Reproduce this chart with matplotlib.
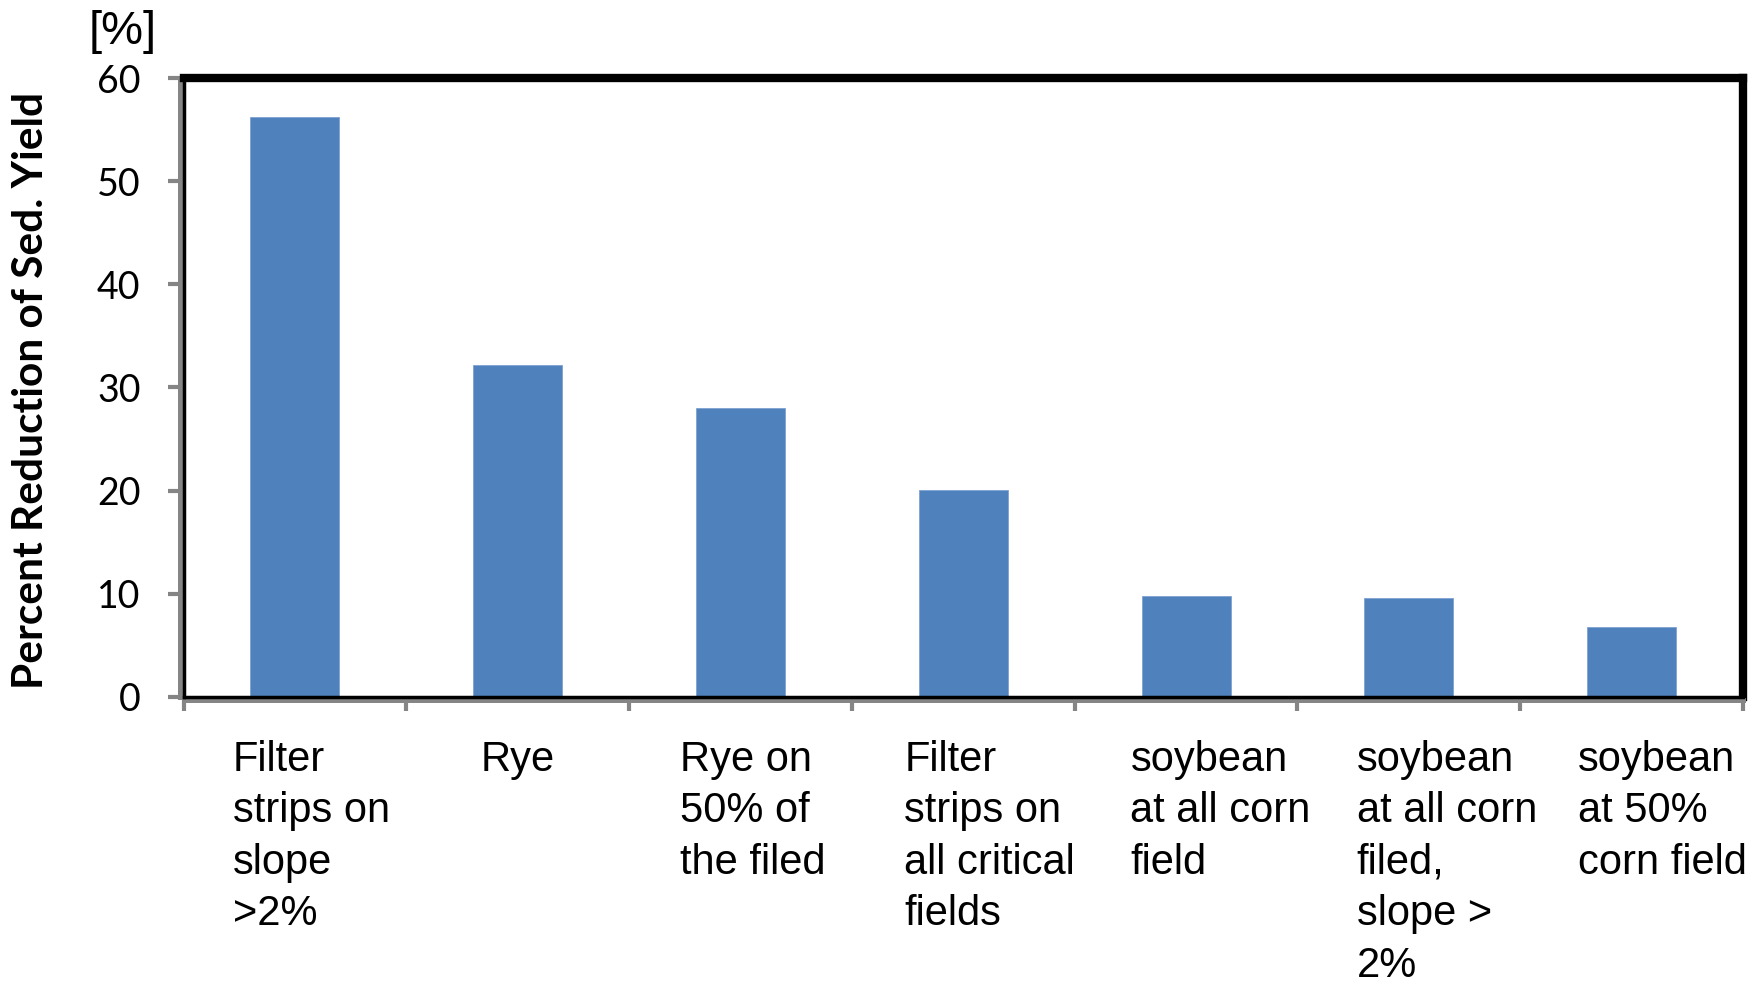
import numpy as np
import matplotlib.pyplot as plt

# sediment yield reduction per management scenario
scenarios = [
    "Filter\nstrips on\nslope\n>2%",
    "Rye",
    "Rye on\n50% of\nthe filed",
    "Filter\nstrips on\nall critical\nfields",
    "soybean\nat all corn\nfield",
    "soybean\nat all corn\nfiled,\nslope >\n2%",
    "soybean\nat 50%\ncorn field",
]
reduction = [56.2, 32.2, 28.0, 20.1, 9.8, 9.6, 6.8]
yticks = [0, 10, 20, 30, 40, 50, 60]

bar_color = '#4F81BD'
axis_gray = '#858585'

fig = plt.figure(figsize=(17.58, 9.89), dpi=100)
ax = fig.add_axes([0.1044, 0.2953, 0.8871, 0.6258])

x = np.arange(len(scenarios))
ax.bar(x, reduction, width=0.40, color=bar_color, edgecolor='#7FA0D0', linewidth=0.6, zorder=2)

ax.set_xlim(-0.5, len(scenarios) - 0.5)
ax.set_ylim(0, 60)

# heavy black plot-area border, gray axis lines outside it
for side in ['top', 'right']:
    ax.spines[side].set_color('black')
    ax.spines[side].set_linewidth(6)
    ax.spines[side].set_capstyle('projecting')
for side in ['left', 'bottom']:
    ax.spines[side].set_color(axis_gray)
    ax.spines[side].set_linewidth(3.6)
    ax.spines[side].set_position(('outward', 2.5))
ax.plot([0, 0], [0, 1], transform=ax.transAxes, color='black', lw=2.5, clip_on=False, zorder=3)
ax.plot([0, 1], [0, 0], transform=ax.transAxes, color='black', lw=2.5, clip_on=False, zorder=3)

ax.set_yticks(yticks)
ax.set_yticklabels([str(v) for v in yticks], fontfamily='Lato', fontsize=27)
ax.tick_params(axis='y', direction='out', length=8.5, width=3, color=axis_gray, pad=20)

# category boundaries carry the tick marks
ax.set_xticks(np.arange(-0.5, len(scenarios), 1.0))
ax.set_xticklabels([])
ax.tick_params(axis='x', direction='out', length=8, width=3, color=axis_gray)

label_dx = [-0.28, 0.0, -0.27, -0.265, -0.25, -0.235, -0.24]
for i, label in enumerate(scenarios):
    ha = 'left' if '\n' in label else 'center'
    ax.annotate(label, xy=(i + label_dx[i], 0), xycoords=('data', 'axes fraction'),
                xytext=(0, -31), textcoords='offset points',
                ha=ha, va='top', fontsize=30, fontfamily='Liberation Sans',
                linespacing=1.37, annotation_clip=False)

fig.text(31 / 1758, 1 - 390 / 989, 'Percent Reduction of Sed. Yield', rotation=90,
         ha='center', va='center', fontsize=30.5, fontweight='bold', fontfamily='Lato')
fig.text(123 / 1758, 1 - 32 / 989, '[%]', ha='center', va='center',
         fontsize=34, fontfamily='Liberation Sans')

fig.savefig('out.png', dpi=100)
